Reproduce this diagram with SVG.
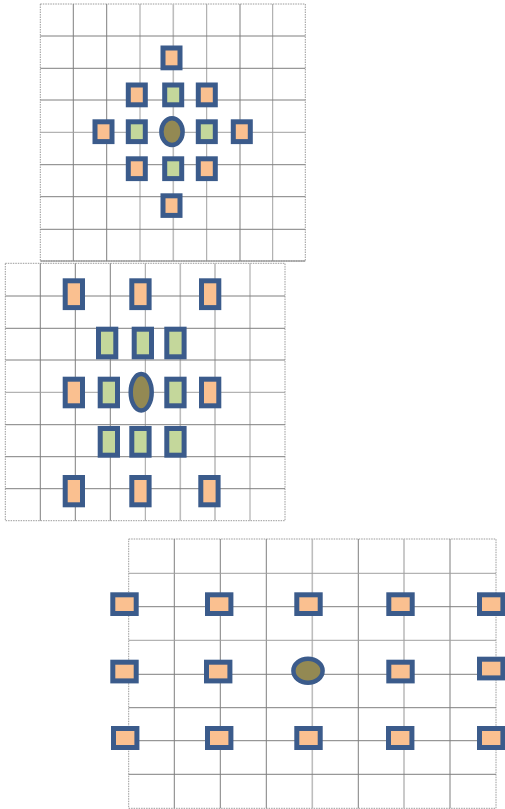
<svg xmlns="http://www.w3.org/2000/svg" width="505" height="809" viewBox="0 0 505 809">
<style>
.bd{fill:none;stroke:#9a9a9a;stroke-width:1;stroke-dasharray:1.5,1}
.gl{stroke:#7f7f7f;stroke-width:1;fill:none}
.gm{stroke:#a0a0a0;stroke-width:1;fill:none}
.gs{stroke:#bdbdbd;stroke-width:1.6;fill:none}
.o{fill:#fac090;stroke:#3b5b8b;stroke-width:5}
.g{fill:#c4d79b;stroke:#3b5b8b;stroke-width:5}
.c{fill:#938953;stroke:#3b5b8b;stroke-width:4.5}
</style>
<rect width="505" height="809" fill="#ffffff"/>
<g id="grid1">
<rect class="bd" x="40.3" y="4" width="265" height="257"/>
<path class="gl" d="M73.3 4V261M106.7 4V261M240 4V261"/>
<path class="gm" d="M140 4V261M206.7 4V261M272.7 4V261"/>
<path class="gs" d="M173.3 4V261"/>
<path class="gl" d="M40.3 36H305.3M40.3 68.3H305.3M40.3 100H305.3M40.3 164.7H305.3M40.3 196.7H305.3M40.3 229.3H305.3M40.3 261H305.3"/>
<path class="gm" d="M40.3 132.3H305.3"/>
</g>
<g id="grid2">
<rect class="bd" x="5.3" y="263.3" width="279.7" height="257.4"/>
<path class="gl" d="M40.3 263.3V520.7M75.3 263.3V520.7M110.3 263.3V520.7"/>
<path class="gm" d="M145.3 263.3V520.7M250 263.3V520.7"/>
<path class="gs" d="M180.3 263.3V520.7M215 263.3V520.7"/>
<path class="gl" d="M5.3 296H285M5.3 328.3H285M5.3 360H285M5.3 424.7H285M5.3 456.7H285M5.3 488.7H285"/>
<path class="gm" d="M5.3 392.3H285"/>
</g>
<g id="grid3">
<rect class="bd" x="128.7" y="539" width="367.3" height="269.3"/>
<path class="gl" d="M174.3 539V808.3M220.3 539V808.3M266.3 539V808.3M358.3 539V808.3M450 539V808.3"/>
<path class="gs" d="M312.3 539V808.3M404 539V808.3"/>
<path class="gm" d="M128.7 573.3H496M128.7 640.3H496"/>
<path class="gl" d="M128.7 606.7H496M128.7 674.3H496M128.7 707.7H496M128.7 740.7H496M128.7 774.3H496"/>
</g>
<g id="d1">
<g id="d1-n1"><rect class="o" x="163" y="48" width="17" height="19.8"/></g>
<g id="d1-n2"><rect class="o" x="128.3" y="85" width="17" height="19.8"/></g>
<g id="d1-n3"><rect class="g" x="164.7" y="85" width="17" height="19.8"/></g>
<g id="d1-n4"><rect class="o" x="198.3" y="85" width="17" height="19.8"/></g>
<g id="d1-n5"><rect class="o" x="95" y="121.8" width="17" height="19.8"/></g>
<g id="d1-n6"><rect class="g" x="128.3" y="121.8" width="17" height="19.8"/></g>
<g id="d1-c"><ellipse class="c" cx="172" cy="131.7" rx="10.6" ry="13.4"/></g>
<g id="d1-n7"><rect class="g" x="198.3" y="121.8" width="17" height="19.8"/></g>
<g id="d1-n8"><rect class="o" x="233.3" y="121.8" width="17" height="19.8"/></g>
<g id="d1-n9"><rect class="o" x="128.3" y="158.8" width="17" height="19.8"/></g>
<g id="d1-n10"><rect class="g" x="164.7" y="158.8" width="17" height="19.8"/></g>
<g id="d1-n11"><rect class="o" x="198.3" y="158.8" width="17" height="19.8"/></g>
<g id="d1-n12"><rect class="o" x="163" y="195.8" width="17" height="19.6"/></g>
</g>
<g id="d2">
<g id="d2-n1"><rect class="o" x="65.2" y="280.8" width="17.3" height="26.8"/></g>
<g id="d2-n2"><rect class="o" x="131.8" y="280.8" width="17.3" height="26.8"/></g>
<g id="d2-n3"><rect class="o" x="201.5" y="280.8" width="17.3" height="26.8"/></g>
<g id="d2-n4"><rect class="g" x="98.5" y="329.2" width="17.3" height="27.6"/></g>
<g id="d2-n5"><rect class="g" x="134.2" y="329.2" width="17.3" height="27.6"/></g>
<g id="d2-n6"><rect class="g" x="166.8" y="329.2" width="17.3" height="27.6"/></g>
<g id="d2-n7"><rect class="o" x="65.2" y="379.2" width="17.3" height="26.6"/></g>
<g id="d2-n8"><rect class="g" x="100.2" y="379.2" width="17.3" height="26.6"/></g>
<g id="d2-c"><ellipse class="c" cx="141.2" cy="392.2" rx="10.5" ry="18.2"/></g>
<g id="d2-n9"><rect class="g" x="166.8" y="379.2" width="17.3" height="26.6"/></g>
<g id="d2-n10"><rect class="o" x="201.5" y="379.2" width="17.3" height="26.6"/></g>
<g id="d2-n11"><rect class="g" x="100.2" y="428.5" width="17.3" height="26.7"/></g>
<g id="d2-n12"><rect class="g" x="131.8" y="428.5" width="17.3" height="26.7"/></g>
<g id="d2-n13"><rect class="g" x="166.8" y="428.5" width="17.3" height="26.7"/></g>
<g id="d2-n14"><rect class="o" x="65.2" y="477.5" width="17.3" height="27.3"/></g>
<g id="d2-n15"><rect class="o" x="131.8" y="477.5" width="17.3" height="27.3"/></g>
<g id="d2-n16"><rect class="o" x="200.8" y="477.5" width="17.3" height="27.3"/></g>
</g>
<g id="d3">
<g id="d3-n1"><rect class="o" x="112.8" y="594.8" width="23.4" height="18.7"/></g>
<g id="d3-n2"><rect class="o" x="207.5" y="594.8" width="23.4" height="18.7"/></g>
<g id="d3-n3"><rect class="o" x="296.8" y="594.8" width="23.4" height="18.7"/></g>
<g id="d3-n4"><rect class="o" x="388.8" y="594.8" width="23.4" height="18.7"/></g>
<g id="d3-n5"><rect class="o" x="479.5" y="594.8" width="23.4" height="18.7"/></g>
<g id="d3-n6"><rect class="o" x="112.8" y="662.2" width="23.4" height="18.7"/></g>
<g id="d3-n7"><rect class="o" x="206.5" y="662.2" width="23.4" height="18.7"/></g>
<g id="d3-c"><ellipse class="c" cx="308" cy="670.7" rx="14.6" ry="12"/></g>
<g id="d3-n8"><rect class="o" x="388.8" y="662.2" width="23.4" height="18.7"/></g>
<g id="d3-n9"><rect class="o" x="479.5" y="659.2" width="23.4" height="18.7"/></g>
<g id="d3-n10"><rect class="o" x="113.5" y="728.5" width="23.4" height="19"/></g>
<g id="d3-n11"><rect class="o" x="207.5" y="728.5" width="23.4" height="19"/></g>
<g id="d3-n12"><rect class="o" x="296.8" y="728.5" width="23.4" height="19"/></g>
<g id="d3-n13"><rect class="o" x="388.5" y="728.5" width="23.4" height="19"/></g>
<g id="d3-n14"><rect class="o" x="479.5" y="728.5" width="23.4" height="19"/></g>
</g>
</svg>
